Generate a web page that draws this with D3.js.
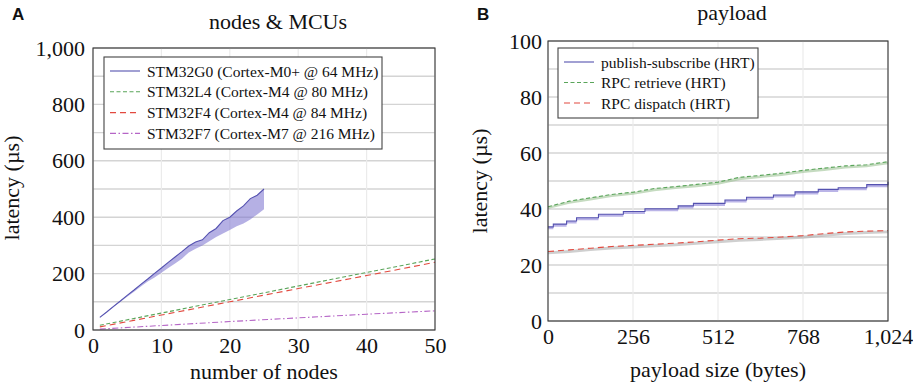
<!DOCTYPE html>
<html>
<head>
<meta charset="utf-8">
<script src="https://cdn.jsdelivr.net/npm/d3@7"></script>
<style>
  body { margin: 0; background: white; }
  svg { display: block; }
</style>
</head>
<body>
<div id="chart"></div>
<script>
// ---- panel A: latency vs number of nodes ----
const nodesG0 = [1,2,3,4,5,6,7,8,9,10,11,12,13,14,15,16,17,18,19,20,21,22,23,24,25];
const g0Upper = [45,64,84,103,123,142,162,181,201,220,240,259,278,298,312,320,345,360,388,400,422,440,466,478,500];
const g0Lower = [44,62,81,100,118,136,154,172,186,203,220,236,253,275,288,300,315,330,342,355,368,378,392,410,428];
const nodesLin = [1,10,20,30,40,50];
const l4Latency = [17,60,108,156,204,252];
const f4Latency = [11,53,100,147,193,240];
const f7Latency = [3,16,30,43,56,68];

// ---- panel B: latency vs payload size ----
const psPayload = [0,16,56,86,152,227,292,392,438,533,598,679,744,814,874,960,1024];
const psLatency = [33.6,34.6,35.7,36.9,38.1,39.1,40.1,41.1,42.0,43.2,44.2,45.0,46.1,47.0,47.6,48.7,49.7];
const psLow = [32.8,33.7,34.8,36.0,37.2,38.2,39.2,40.2,41.1,42.3,43.3,44.1,45.2,46.1,46.7,47.8,48.8];
const rpcPayload = [0,64,128,192,256,320,384,448,512,576,640,704,768,832,896,960,1024];
const retrieveLatency = [40.8,42.8,44.0,45.2,46.0,47.3,48.0,48.8,49.6,51.3,52.0,52.8,53.8,54.6,55.4,55.8,56.9];
const retrieveLow = [40.0,41.9,43.0,44.3,45.1,46.3,47.1,47.8,48.7,50.3,51.1,51.8,52.9,53.6,54.5,54.9,56.0];
const dispatchLatency = [24.8,25.4,26.0,26.6,27.0,27.4,27.8,28.3,28.9,29.4,29.6,30.0,30.5,31.2,31.8,32.1,32.3];
const dispatchLow = [23.8,24.3,25.0,25.5,25.9,26.3,26.7,27.2,27.8,28.3,28.6,29.0,29.4,30.1,30.7,31.1,31.3];

const serif = "'Liberation Serif', 'Times New Roman', serif";
const width = 913, height = 384;

const svg = d3.select("#chart").append("svg")
    .attr("width", width)
    .attr("height", height)
    .style("background-color", "white");

function drawPanel(cfg) {
    let g = svg.append("g");
    let x = d3.scaleLinear().domain(cfg.xDomain).range(cfg.xRange);
    let y = d3.scaleLinear().domain(cfg.yDomain).range(cfg.yRange);

    // grid
    g.selectAll(".hgrid").data(d3.range(cfg.yDomain[0], cfg.yDomain[1] + 0.001, cfg.yGrid))
        .enter().append("line")
        .attr("x1", cfg.xRange[0]).attr("x2", cfg.xRange[1])
        .attr("y1", d => y(d)).attr("y2", d => y(d))
        .attr("stroke", "#d4d4d4").attr("stroke-width", 1.4);
    g.selectAll(".vgrid").data(cfg.xTicks)
        .enter().append("line")
        .attr("x1", d => x(d)).attr("x2", d => x(d))
        .attr("y1", cfg.yRange[0]).attr("y2", cfg.yRange[1])
        .attr("stroke", "#ebebeb").attr("stroke-width", 1.2);

    // axes (labels only, pgfplots-like)
    let xAxis = d3.axisBottom(x).tickValues(cfg.xTicks).tickFormat(d3.format(",")).tickSize(0).tickPadding(7);
    let yAxis = d3.axisLeft(y).tickValues(cfg.yTicks).tickFormat(d3.format(",")).tickSize(0).tickPadding(cfg.yPad);
    g.append("g").attr("transform", "translate(0," + cfg.yRange[0] + ")").call(xAxis)
        .call(a => a.select(".domain").remove())
        .selectAll("text").attr("font-family", serif).attr("font-size", 22).attr("fill", "#111");
    g.append("g").attr("transform", "translate(" + cfg.xRange[0] + ",0)").call(yAxis)
        .call(a => a.select(".domain").remove())
        .selectAll("text").attr("font-family", serif).attr("font-size", 22).attr("fill", "#111");

    // series
    let plot = g.append("g");
    cfg.bands.forEach(b => {
        let area = d3.area()
            .x((d, i) => x(b.xs[i]))
            .y0((d, i) => y(b.low[i]))
            .y1((d, i) => y(b.high[i]))
            .curve(b.curve || d3.curveLinear);
        plot.append("path").datum(b.xs).attr("d", area)
            .attr("fill", b.fill).attr("stroke", "none");
    });
    cfg.series.forEach(s => {
        let line = d3.line()
            .x((d, i) => x(s.xs[i]))
            .y((d, i) => y(s.ys[i]))
            .curve(s.curve || d3.curveLinear);
        plot.append("path").datum(s.xs).attr("d", line)
            .attr("fill", "none").attr("stroke", s.color)
            .attr("stroke-width", 1.1)
            .attr("stroke-dasharray", s.dash || null);
    });

    // frame
    g.append("rect")
        .attr("x", cfg.xRange[0]).attr("y", cfg.yRange[1])
        .attr("width", cfg.xRange[1] - cfg.xRange[0])
        .attr("height", cfg.yRange[0] - cfg.yRange[1])
        .attr("fill", "none").attr("stroke", "#333").attr("stroke-width", 1.1);

    // legend
    let lg = g.append("g").attr("transform", "translate(" + cfg.legend.x + "," + cfg.legend.y + ")");
    lg.append("rect").attr("width", cfg.legend.w).attr("height", cfg.legend.h)
        .attr("fill", "white").attr("stroke", "#444").attr("stroke-width", 1.1);
    cfg.series.forEach((s, i) => {
        let ry = cfg.legend.top + i * cfg.legend.step;
        lg.append("line").attr("x1", 6).attr("x2", 36).attr("y1", ry).attr("y2", ry)
            .attr("stroke", s.color).attr("stroke-width", 1.1)
            .attr("stroke-dasharray", s.dash || null);
        lg.append("text").attr("x", 43).attr("y", ry + 5.5)
            .attr("font-family", serif).attr("font-size", 15.5).attr("fill", "#111")
            .text(s.name);
    });

    // titles
    svg.append("text").attr("x", cfg.title.x).attr("y", cfg.title.y)
        .attr("text-anchor", "middle").attr("font-family", serif).attr("font-size", 22)
        .attr("fill", "#111").text(cfg.title.text);
    svg.append("text").attr("x", cfg.xLabel.x).attr("y", cfg.xLabel.y)
        .attr("text-anchor", "middle").attr("font-family", serif).attr("font-size", 22)
        .attr("fill", "#111").text(cfg.xLabel.text);
    svg.append("text")
        .attr("transform", "translate(" + cfg.yLabel.x + "," + cfg.yLabel.y + ") rotate(-90)")
        .attr("text-anchor", "middle").attr("font-family", serif).attr("font-size", 22)
        .attr("fill", "#111").text("latency (µs)");
    svg.append("text").attr("x", cfg.letter.x).attr("y", cfg.letter.y)
        .attr("font-family", "'Liberation Sans', Arial, sans-serif").attr("font-weight", "bold")
        .attr("font-size", 17).attr("fill", "#111").text(cfg.letter.text);
}

const blue = "#5552b0", green = "#5aa55a", red = "#e2493f", purple = "#b565c6";

drawPanel({
    xDomain: [0, 50], xRange: [93, 435],
    yDomain: [0, 1000], yRange: [330, 48],
    yGrid: 100, yPad: 8,
    xTicks: [0, 10, 20, 30, 40, 50],
    yTicks: [0, 200, 400, 600, 800, 1000],
    bands: [
        { xs: nodesG0, low: g0Lower, high: g0Upper, fill: "rgba(120,112,205,0.55)" }
    ],
    series: [
        { name: "STM32G0 (Cortex-M0+ @ 64 MHz)", xs: nodesG0, ys: g0Upper, color: blue },
        { name: "STM32L4 (Cortex-M4 @ 80 MHz)", xs: nodesLin, ys: l4Latency, color: green, dash: "4,2.5" },
        { name: "STM32F4 (Cortex-M4 @ 84 MHz)", xs: nodesLin, ys: f4Latency, color: red, dash: "6,4" },
        { name: "STM32F7 (Cortex-M7 @ 216 MHz)", xs: nodesLin, ys: f7Latency, color: purple, dash: "6,2.5,1.5,2.5" }
    ],
    legend: { x: 104, y: 57, w: 278, h: 92, top: 14, step: 20.8 },
    title: { x: 278, y: 29, text: "nodes & MCUs" },
    xLabel: { x: 264, y: 379, text: "number of nodes" },
    yLabel: { x: 19, y: 188 },
    letter: { x: 12, y: 20, text: "A" }
});

drawPanel({
    xDomain: [0, 1024], xRange: [548, 888],
    yDomain: [0, 100], yRange: [321, 41],
    yGrid: 10, yPad: 6,
    xTicks: [0, 256, 512, 768, 1024],
    yTicks: [0, 20, 40, 60, 80, 100],
    bands: [
        { xs: psPayload, low: psLow, high: psLatency, fill: "rgba(140,130,215,0.6)", curve: d3.curveStepAfter },
        { xs: rpcPayload, low: retrieveLow, high: retrieveLatency, fill: "rgba(150,190,140,0.55)" },
        { xs: rpcPayload, low: dispatchLow, high: dispatchLatency, fill: "rgba(175,175,175,0.6)" }
    ],
    series: [
        { name: "publish-subscribe (HRT)", xs: psPayload, ys: psLatency, color: blue, curve: d3.curveStepAfter },
        { name: "RPC retrieve (HRT)", xs: rpcPayload, ys: retrieveLatency, color: green, dash: "4,2.5" },
        { name: "RPC dispatch (HRT)", xs: rpcPayload, ys: dispatchLatency, color: red, dash: "6,4" }
    ],
    legend: { x: 558, y: 48, w: 200, h: 70, top: 14, step: 20.5 },
    title: { x: 732, y: 20, text: "payload" },
    xLabel: { x: 718, y: 377, text: "payload size (bytes)" },
    yLabel: { x: 487, y: 181 },
    letter: { x: 477, y: 20, text: "B" }
});
</script>
</body>
</html>
